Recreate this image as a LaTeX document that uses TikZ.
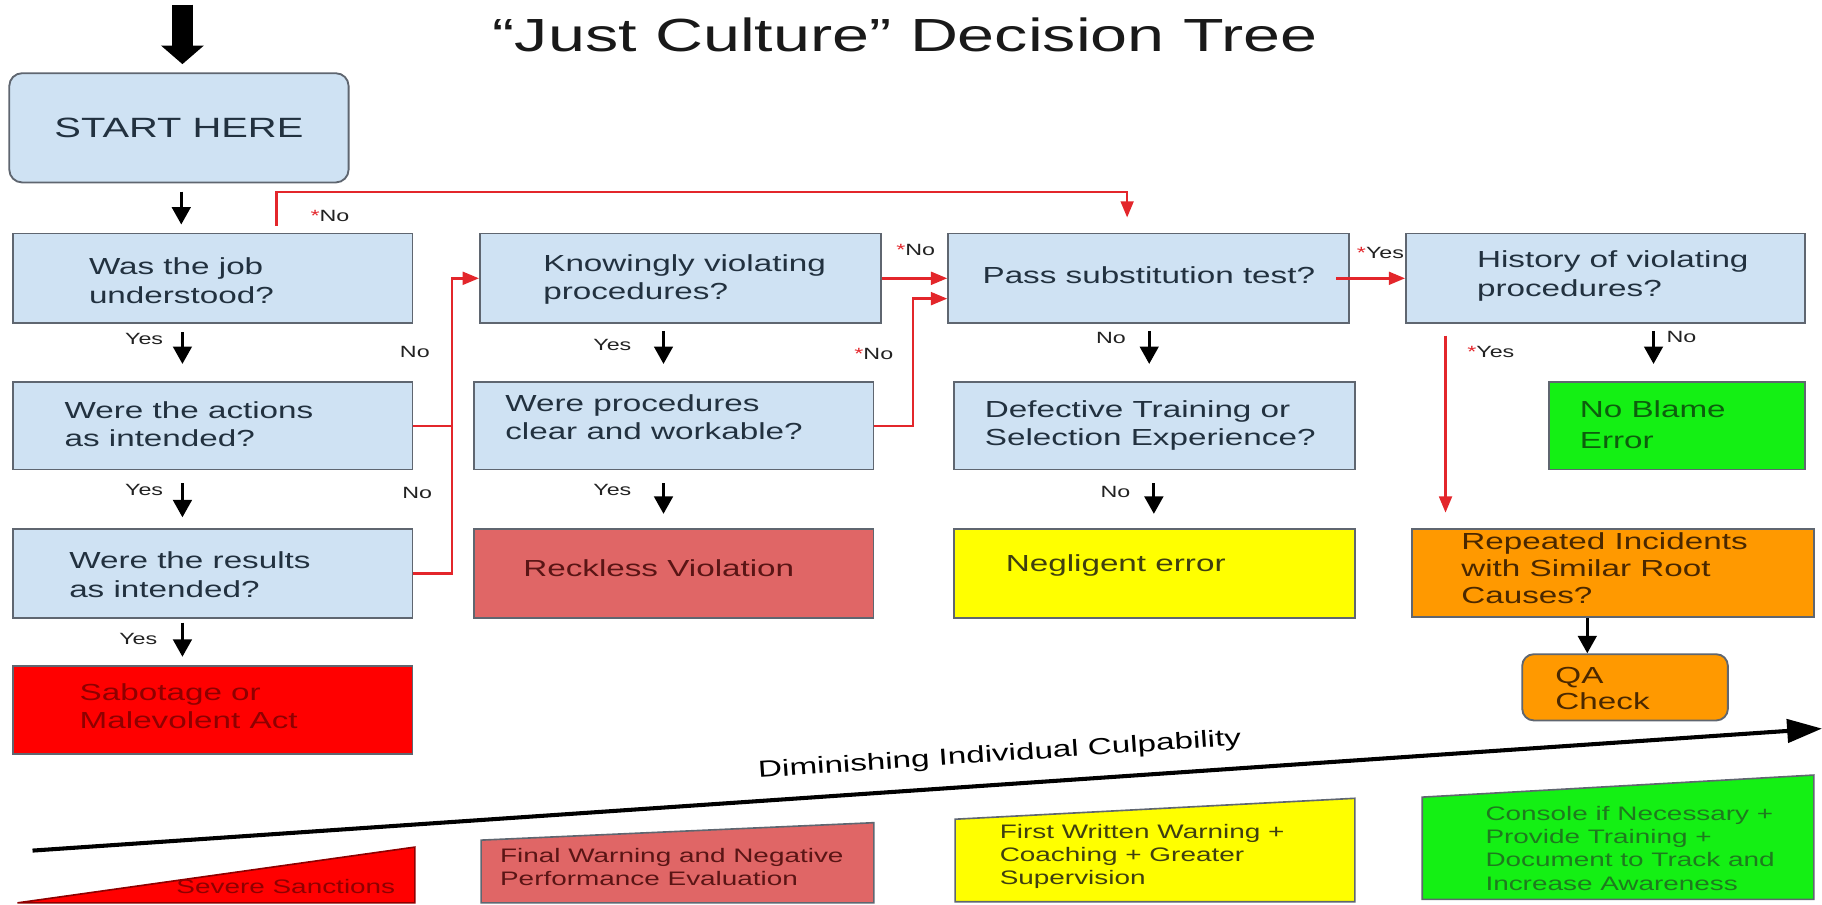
\documentclass[tikz,border=0pt]{standalone}
\usepackage{fontspec}
\setmainfont{Liberation Sans}[FakeStretch=1.43]
\usetikzlibrary{calc,arrows.meta}
\definecolor{bblue}{HTML}{CFE2F3}
\definecolor{bborder}{HTML}{5F6670}
\definecolor{btext}{HTML}{22313F}
\definecolor{pinkf}{HTML}{E06666}
\definecolor{pinkt}{HTML}{5A1515}
\definecolor{redf}{HTML}{FF0000}
\definecolor{redt}{HTML}{8E0000}
\definecolor{yelf}{HTML}{FFFF00}
\definecolor{yelt}{HTML}{3F3F10}
\definecolor{grnf}{HTML}{14F014}
\definecolor{grnt}{HTML}{0D5E0D}
\definecolor{grnt2}{HTML}{1E7A1E}
\definecolor{orf}{HTML}{FF9900}
\definecolor{ort}{HTML}{4A2800}
\definecolor{rline}{HTML}{E3262B}
\definecolor{lblc}{HTML}{222222}
\begin{document}
\begin{tikzpicture}[x=0.5pt,y=-0.5pt,
  box/.style={draw=bborder, line width=0.8pt, inner sep=0pt, fill=bblue},
  txt/.style={inner sep=0pt, align=left, anchor=west, font=\fontsize{10}{12.25}\selectfont, text=btext},
  barrow/.style={draw=black, line width=1.3pt, -{Triangle[length=7.5pt,width=8pt]}},
  rln/.style={draw=rline, line width=1.1pt},
  rarrow/.style={rln, -{Triangle[length=7pt,width=5.5pt]}},
  lbl/.style={inner sep=0pt, font=\fontsize{7}{8}\selectfont, text=lblc},
  btm/.style={inner sep=0pt, align=left, anchor=west, font=\fontsize{8.4}{10}\selectfont},
  bshape/.style={draw=bborder, line width=0.7pt}
]
\useasboundingbox (0,0) rectangle (1568,778);

% title
\node[inner sep=0pt, font=\fontsize{20}{24}\selectfont, text=black!90] (title) at (779,30) {“Just Culture” Decision Tree};

% start
\node[box, rounded corners=5.5pt, minimum width=146pt, minimum height=47pt,
      font=\fontsize{12}{14}\selectfont, text=btext] (start) at (154,110) {START HERE};
\coordinate (topIn) at (157,4);
\draw[line width=9pt, -{Triangle[length=8pt,width=18pt]}] (topIn) -- ($(start.north)+(3,-7)$);

% column A
\node[box, minimum width=172pt, minimum height=38.5pt] (A1) at (183,239.5) {};
\node[txt] (A1t) at ($(A1.west)+(66,2)$) {Was the job\\understood?};
\node[box, minimum width=172pt, minimum height=37.5pt] (A2) at (183,366.5) {};
\node[txt] (A2t) at ($(A2.west)+(45,-1.5)$) {Were the actions\\as intended?};
\node[box, minimum width=172pt, minimum height=38.5pt] (A3) at (183,493.5) {};
\node[txt] (A3t) at ($(A3.west)+(49,1)$) {Were the results\\as intended?};
\node[box, fill=redf, minimum width=172pt, minimum height=38pt] (A4) at (183,611) {};
\node[txt, text=redt, font=\fontsize{10}{12}\selectfont] (A4t) at ($(A4.west)+(58,-3)$) {Sabotage or\\Malevolent Act};

% column B
\node[box, minimum width=172.5pt, minimum height=38.5pt] (B1) at (585.5,239.5) {};
\node[txt] (B1t) at ($(B1.west)+(55,1)$) {Knowingly violating\\procedures?};
\node[box, minimum width=171.75pt, minimum height=37.5pt] (B2) at (580,366.5) {};
\node[txt] (B2t) at ($(B2.west)+(27,-7.5)$) {Were procedures\\clear and workable?};
\node[box, fill=pinkf, minimum width=171.75pt, minimum height=38.5pt] (B3) at (580,493.5) {};
\node[txt, text=pinkt] (B3t) at ($(B3.west)+(42.5,-4.5)$) {Reckless Violation};

% column C
\node[box, minimum width=172.5pt, minimum height=38.5pt] (C1) at (988.5,239.5) {};
\node[txt] (C1t) at ($(C1.west)+(30,-2.5)$) {Pass substitution test?};
\node[box, minimum width=172.5pt, minimum height=37.5pt] (C2) at (993.5,366.5) {};
\node[txt] (C2t) at ($(C2.west)+(27,-0.5)$) {Defective Training or\\Selection Experience?};
\node[box, fill=yelf, minimum width=172.5pt, minimum height=38.5pt] (C3) at (993.5,493.5) {};
\node[txt, text=yelt] (C3t) at ($(C3.west)+(45,-6.5)$) {Negligent error};

% column D
\node[box, minimum width=171.5pt, minimum height=38.5pt] (D1) at (1381.5,239.5) {};
\node[txt] (D1t) at ($(D1.west)+(61.5,-2)$) {History of violating\\procedures?};
\node[box, fill=grnf, minimum width=110pt, minimum height=37.5pt] (D2) at (1443,366.5) {};
\node[txt, text=grnt, font=\fontsize{10}{13.5}\selectfont] (D2t) at ($(D2.west)+(27,-1)$) {No Blame\\Error};
\node[box, fill=orf, minimum width=173pt, minimum height=38pt] (D3) at (1388,493) {};
\node[txt, text=ort, font=\fontsize{10}{11.5}\selectfont] (D3t) at ($(D3.west)+(43,-4)$) {Repeated Incidents\\with Similar Root\\Causes?};
\node[box, fill=orf, rounded corners=5pt, minimum width=88.5pt, minimum height=28.5pt] (QA) at (1398.5,591.5) {};
\node[txt, text=ort, font=\fontsize{10}{11.5}\selectfont] (QAt) at ($(QA.west)+(29,1)$) {QA\\Check};

% black arrows
\draw[barrow] ($(start.south)+(2,7)$) -- ($(A1.north)+(-27,-7)$);
\draw[barrow] ($(A1.south)+(-26,7)$) -- ($(A2.north)+(-26,-15)$);
\draw[barrow] ($(A2.south)+(-26,11)$) -- ($(A3.north)+(-26,-9)$);
\draw[barrow] ($(A3.south)+(-26,3)$) -- ($(A4.north)+(-26,-7)$);
\draw[barrow] ($(B1.south)+(-14.5,6)$) -- ($(B2.north)+(-9,-15)$);
\draw[barrow] ($(B2.south)+(-9,11)$) -- ($(B3.north)+(-9,-12)$);
\draw[barrow] ($(C1.south)+(0.5,6)$) -- ($(C2.north)+(-4.5,-15)$);
\draw[barrow] ($(C2.south)+(-0.5,11)$) -- ($(C3.north)+(-0.5,-12)$);
\draw[barrow] ($(D1.south)+(41.5,6)$) -- ($(D2.north)+(-20,-15)$);
\draw[barrow] ($(D3.south)+(-22,0)$) -- ($(QA.north)+(-32.5,0)$);

% red connectors
\draw[rarrow] ($(A1.north)+(55,-6)$) -- ++(0,-29) -| ($(C1.north)+(-18.5,-13)$);
\draw[rarrow] (A2.east) -- ++(33,0) |- (B1.west);
\draw[rln] (A3.east) -| ($(A2.east)+(33,0)$);
\draw[rarrow] (B1.east) -- (C1.west);
\draw[rarrow] (B2.east) -- ++(33,0) |- ($(C1.west)+(0,17.5)$);
\draw[rarrow] ($(C1.east)+(-12,0)$) -- (D1.west);
\coordinate (dyS) at ($(D1.south)+(-137.5,10)$);
\coordinate (dyE) at ($(D3.north)+(0,-13)$);
\draw[rarrow] (dyS) -- (dyS |- dyE);

% labels
\node[lbl] (nA1) at (284,186) {\textcolor{rline}{*}No};
\node[lbl] (yA12) at (124,292) {Yes};
\node[lbl] (nA2) at (357,303) {No};
\node[lbl] (yA23) at (124,422) {Yes};
\node[lbl] (nA3) at (359,424) {No};
\node[lbl] (yA34) at (119,550) {Yes};
\node[lbl] (yB12) at (527,297) {Yes};
\node[lbl] (yB23) at (527,422) {Yes};
\node[lbl] (nB1) at (788,215) {\textcolor{rline}{*}No};
\node[lbl] (nB2) at (752,305) {\textcolor{rline}{*}No};
\node[lbl] (nC12) at (956,291) {No};
\node[lbl] (nC23) at (960,423) {No};
\node[lbl] (yC1) at (1188,218) {\textcolor{rline}{*}Yes};
\node[lbl] (yD13) at (1283,303) {\textcolor{rline}{*}Yes};
\node[lbl] (nD12) at (1447,290) {No};

% culpability axis
\coordinate (cL) at (28,732);
\coordinate (cR) at (1568,627);
\draw[line width=1.75pt, -{Triangle[length=15pt,width=10pt]}] (cL) -- node[pos=0.5416, sloped, above=7pt, inner sep=0pt, font=\fontsize{10}{12}\selectfont] (culpT) {Diminishing Individual Culpability} (cR);

% bottom scale shapes
\path[bshape, fill=redf, draw=redt] (15,777) -- (357,729) -- (357,777) -- cycle;
\node[btm, anchor=center, text=redt] (sev) at (246,763) {Severe Sanctions};
\path[bshape, fill=pinkf] (414,723) -- (752,708) -- (752,777) -- (414,777) -- cycle;
\node[btm, text=pinkt] (fw) at (430,746) {Final Warning and Negative\\Performance Evaluation};
\path[bshape, fill=yelf] (822,705) -- (1166,687) -- (1166,776) -- (822,776) -- cycle;
\node[btm, text=yelt] (fww) at (860,737) {First Written Warning +\\Coaching + Greater\\Supervision};
\path[bshape, fill=grnf] (1224,686) -- (1561,667) -- (1561,774) -- (1224,774) -- cycle;
\node[btm, text=grnt2] (cons) at (1278,730) {Console if Necessary +\\Provide Training +\\Document to Track and\\Increase Awareness};
\end{tikzpicture}
\end{document}
